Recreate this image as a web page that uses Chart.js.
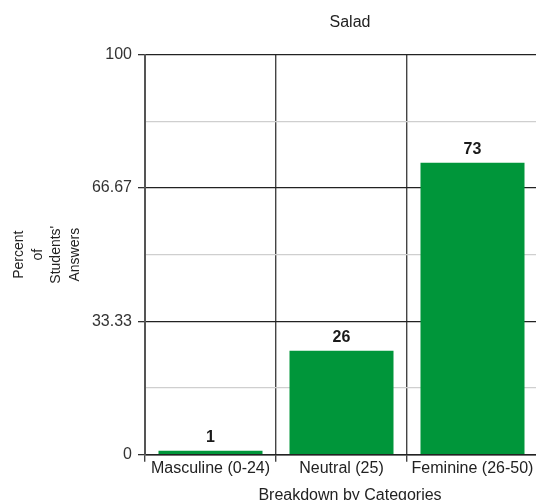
<!DOCTYPE html>
<html>
<head>
<meta charset="utf-8">
<script src="https://cdn.jsdelivr.net/npm/chart.js@4/dist/chart.umd.min.js"></script>
<style>
  html, body { margin: 0; padding: 0; overflow: hidden; background: #fff; }
  #wrap { width: 700px; height: 510px; }
</style>
</head>
<body>
<div id="wrap"><canvas id="c" width="700" height="510"></canvas></div>
<script>
// Survey results: share of answers per category
const categories = ['Masculine (0-24)', 'Neutral (25)', 'Feminine (26-50)'];
const percentages = [1, 26, 73];

// Labelled y ticks and the unlabelled light lines between them
const yTickValues = [0, 33.33, 66.67, 100];
const yTickLabels = ['0', '33.33', '66.67', '100'];
const yMinorValues = [16.67, 50, 83.33];

const FONT = '"Liberation Sans", Arial, Helvetica, sans-serif';
const BAR_GREEN = '#00963a';

const isMinor = v => yMinorValues.some(m => Math.abs(m - v) < 0.01);

// Writes each bar's value above it
const valueLabels = {
  id: 'valueLabels',
  afterDatasetsDraw(chart) {
    const ctx = chart.ctx;
    const meta = chart.getDatasetMeta(0);
    ctx.save();
    ctx.font = 'bold 16px ' + FONT;
    ctx.fillStyle = '#1a1a1a';
    ctx.textAlign = 'center';
    ctx.textBaseline = 'alphabetic';
    meta.data.forEach((bar, i) => {
      ctx.fillText(String(chart.data.datasets[0].data[i]), bar.x, bar.y - 9);
    });
    ctx.restore();
  }
};

new Chart(document.getElementById('c'), {
  type: 'bar',
  data: {
    labels: categories,
    datasets: [{
      data: percentages,
      backgroundColor: BAR_GREEN,
      borderWidth: 0,
      categoryPercentage: 1.0,
      barPercentage: 0.794
    }]
  },
  options: {
    responsive: false,
    animation: false,
    devicePixelRatio: 1,
    layout: { padding: 0 },
    plugins: {
      legend: { display: false },
      tooltip: { enabled: false },
      title: {
        display: true,
        text: 'Salad',
        color: '#222',
        font: { family: FONT, size: 16, weight: 'normal' },
        padding: { top: 13, bottom: 22.5 }
      },
      subtitle: {
        display: true,
        position: 'bottom',
        text: 'Breakdown by Categories',
        color: '#222',
        font: { family: FONT, size: 16, weight: 'normal' },
        padding: { top: 0, bottom: 5 }
      }
    },
    scales: {
      x: {
        offset: true,
        grid: {
          offset: true,
          display: true,
          drawOnChartArea: true,
          drawTicks: true,
          tickLength: 7,
          color: '#444',
          lineWidth: 1.4
        },
        border: { display: true, color: '#222', width: 1.5 },
        ticks: {
          color: '#222',
          padding: -3,
          font: { family: FONT, size: 16 },
          maxRotation: 0,
          autoSkip: false
        },
        afterFit(scale) { scale.height = 31.1; }
      },
      y: {
        min: 0,
        max: 100,
        afterBuildTicks(scale) {
          const vals = yTickValues.concat(yMinorValues).sort((a, b) => a - b);
          scale.ticks = vals.map(v => ({ value: v }));
        },
        afterFit(scale) { scale.width = 145; },
        grid: {
          drawTicks: true,
          tickLength: 7,
          color: c => (c.tick && isMinor(c.tick.value)) ? '#cfcfcf' : '#222',
          lineWidth: c => (c.tick && isMinor(c.tick.value)) ? 1.2 : 1.3,
          tickColor: c => (c.tick && isMinor(c.tick.value)) ? 'rgba(0,0,0,0)' : '#333'
        },
        border: { display: true, color: '#555', width: 2 },
        ticks: {
          color: '#333',
          padding: 6,
          font: { family: FONT, size: 16 },
          callback(value) {
            const i = yTickValues.findIndex(t => Math.abs(t - value) < 0.01);
            return i >= 0 ? yTickLabels[i] : '';
          }
        },
        title: {
          display: true,
          text: ['Percent', 'of', "Students'", 'Answers'],
          color: '#222',
          font: { family: FONT, size: 14, lineHeight: 1.32 },
          padding: { top: 10, bottom: 0 }
        }
      },
      // Empty right-hand margin so the plot ends where the page is cut
      side: {
        type: 'linear',
        position: 'right',
        display: true,
        grid: { display: false, drawTicks: false },
        border: { display: false },
        ticks: { display: false },
        afterFit(scale) { scale.width = 162; }
      }
    }
  },
  plugins: [valueLabels]
});
</script>
</body>
</html>
